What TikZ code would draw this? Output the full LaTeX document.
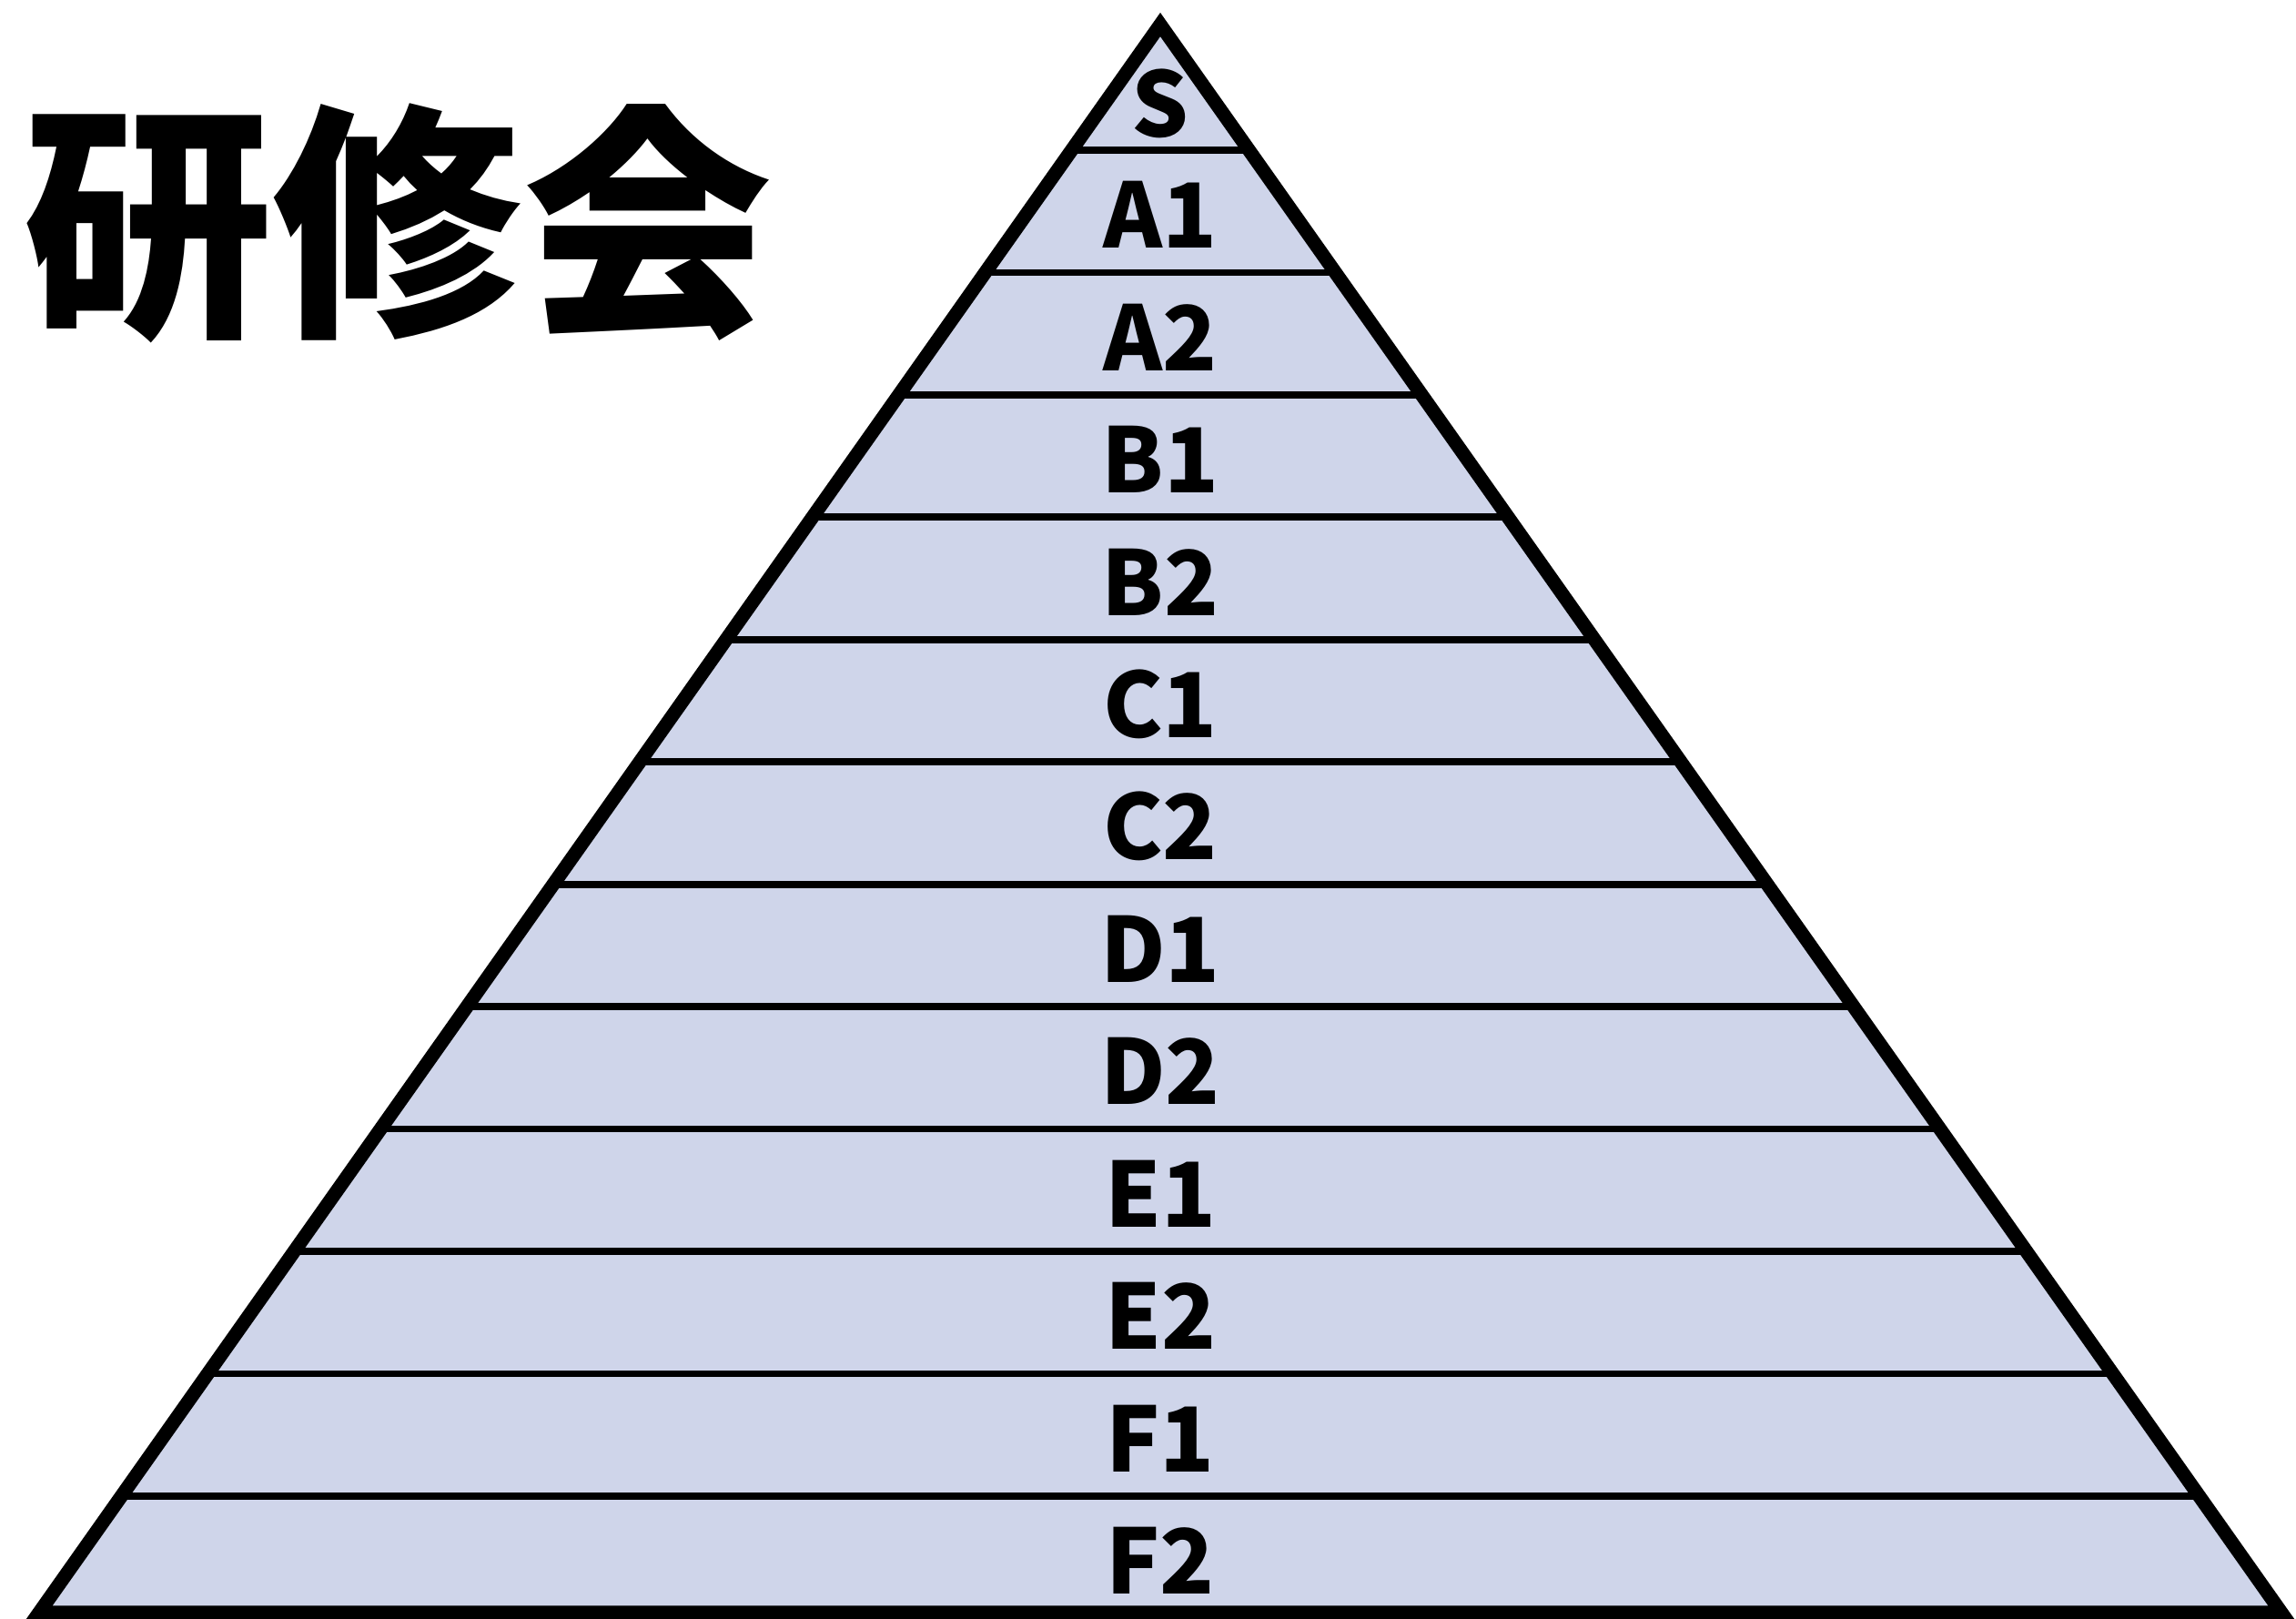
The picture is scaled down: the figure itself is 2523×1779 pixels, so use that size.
\documentclass[tikz,border=0pt]{standalone}
\usepackage{fontspec}
\newfontfamily\cjkfont{Noto Sans CJK JP}
\definecolor{bandfill}{RGB}{207,213,234}
\tikzset{
  bandlabel/.style={font=\cjkfont\bfseries\fontsize{28}{28}\selectfont, inner sep=0pt},
  titletext/.style={font=\cjkfont\bfseries\fontsize{78}{78}\selectfont, inner sep=0pt},
  bandline/.style={line width=2.2pt},
  outline/.style={line width=4.3pt, line join=miter}
}
\begin{document}
\begin{tikzpicture}[line cap=butt, x=0.01cm, y=-0.01cm]
  \useasboundingbox (0,0) rectangle (2523,1779);

  \coordinate (top) at (1275,27);
  \coordinate (left) at (43,1772);
  \coordinate (right) at (2507,1772);

  % Pyramid
  \fill[bandfill] (top) -- (left) -- (right) -- cycle;
  \foreach \i in {0,...,11} {
    \pgfmathsetmacro{\yy}{165+134.45*\i}
    \pgfmathsetmacro{\hw}{(\yy-27)*0.706}
    \draw[bandline] (1275-\hw,\yy) -- (1275+\hw,\yy);
  }
  \draw[outline] (top) -- (left) -- (right) -- cycle;

  % Levels
  \node[bandlabel] (lvl0) at (1275,114) {S};
  \foreach \lab [count=\i] in {A1,A2,B1,B2,C1,C2,D1,D2,E1,E2,F1,F2} {
    \node[bandlabel] (lvl\i) at (1275,{165+134.45*(\i-1)+71}) {\lab};
  }

  % Title
  \node[titletext] (title) at (437,245) {研修会};
\end{tikzpicture}
\end{document}
